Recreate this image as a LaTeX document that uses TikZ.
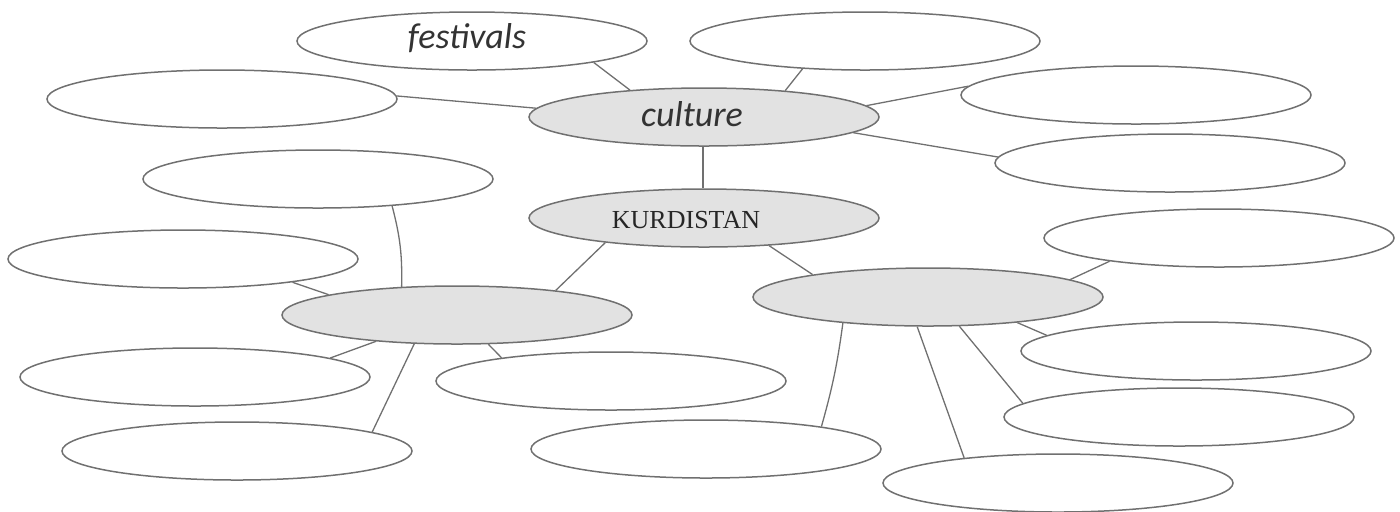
\documentclass[tikz,border=0pt]{standalone}
\usepackage{fontspec}
\newfontfamily\bubblefont{Carlito}
\newfontfamily\titlefont{Liberation Serif}
\usetikzlibrary{shapes.geometric}

\definecolor{rimgray}{HTML}{707070}
\definecolor{fillgray}{HTML}{E2E2E2}

\begin{document}
\begin{tikzpicture}[
    x=0.5pt, y=-0.5pt,
    bubble/.style={draw=rimgray, line width=0.75pt, ellipse, inner sep=0pt, minimum width=175pt, minimum height=29pt},
    hub/.style={bubble, fill=fillgray},
    word/.style={font=\bubblefont\itshape\fontsize{18}{20}\selectfont, text=black!80},
    spoke/.style={draw=rimgray, line width=0.65pt}
]
\useasboundingbox (0,0) rectangle (1400,511);

% centre of the web
\node[hub] (culture) at (704,117) {};
\node[word] at (692,114) {culture};
\node[hub] (kurd) at (704,218) {};
\node[font=\titlefont\fontsize{13}{15}\selectfont, text=black!85] at (686,220) {KURDISTAN};
\node[hub] (westhub) at (457,315) {};
\node[hub] (easthub) at (928,297) {};

% bubbles round culture
\node[bubble] (fest) at (472,41) {};
\node[word] at (467,38) {festivals};
\node[bubble] (topnext) at (865,41) {};
\node[bubble] (topwest) at (222,99) {};
\node[bubble] (topeast) at (1136,95) {};
\node[bubble] (midweast) at (1170,163) {};

% bubbles round the west hub
\node[bubble] (westa) at (318,179) {};
\node[bubble] (westb) at (183,259) {};
\node[bubble] (westc) at (195,377) {};
\node[bubble] (westd) at (237,451) {};
\node[bubble] (weste) at (611,381) {};

% bubbles round the east hub
\node[bubble] (easta) at (1219,238) {};
\node[bubble] (eastb) at (1196,351) {};
\node[bubble] (eastc) at (1179,417) {};
\node[bubble] (eastd) at (1058,483) {};
\node[bubble] (easte) at (706,449) {};

\draw[spoke] (fest.-10) -- (culture.160.7);
\draw[spoke] (topnext.204) -- (culture.18.2);
\draw[spoke] (topwest.1) -- (culture.177.7);
\draw[spoke] (topeast.177.7) -- (culture.4.3);
\draw[spoke] (midweast.178) -- (culture.-6.6);
\draw[spoke] (culture.268) -- (kurd.92);
\draw[spoke] (kurd.194) -- (westhub.14.3);
\draw[spoke] (kurd.-23) -- (easthub.169.4);

\draw[spoke] (westa.-20) to[bend left=8] (westhub.153.4);
\draw[spoke] (westb.-12.3) -- (westhub.171.6);
\draw[spoke] (westc.8.7) -- (westhub.198);
\draw[spoke] (westd.8.3) -- (westhub.214.6);
\draw[spoke] (weste.168.6) -- (westhub.-43);

\draw[spoke] (easta.192) -- (easthub.7.5);
\draw[spoke] (eastb.174.6) -- (easthub.-16.3);
\draw[spoke] (eastc.175.7) -- (easthub.-43);
\draw[spoke] (eastd.165.4) -- (easthub.250);
\draw[spoke] (easte.11.7) to[bend right=4] (easthub.197.6);
\end{tikzpicture}
\end{document}
